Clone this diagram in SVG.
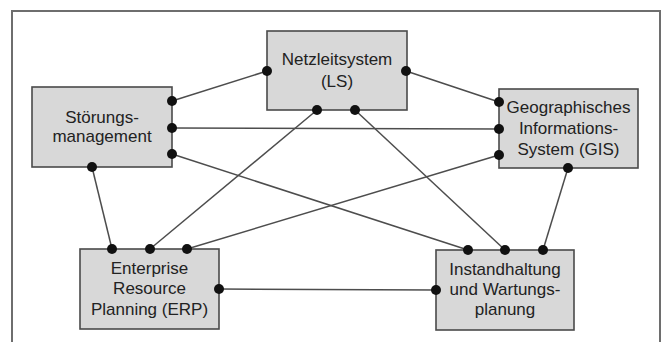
<svg xmlns="http://www.w3.org/2000/svg" width="664" height="342" viewBox="0 0 664 342">
<style>
.box{fill:#d8d8d8;stroke:#4a4a4a;stroke-width:1.6}
.ln{stroke:#4d4d4d;stroke-width:1.5;fill:none}
.dot{fill:#111}
text{font-family:"Liberation Sans","Open Sans",sans-serif;font-size:17px;fill:#222;text-anchor:middle}
</style>
<rect x="0" y="0" width="664" height="342" fill="#fff"/>
<path d="M12 352 V11 H660 V352" fill="none" stroke="#6e6e6e" stroke-width="2"/>
<g id="connectors" class="ln">
<line x1="267" y1="71" x2="172" y2="101"/>
<line x1="406" y1="71" x2="499" y2="102"/>
<line x1="172" y1="128" x2="499" y2="129"/>
<line x1="172" y1="154" x2="468" y2="250"/>
<line x1="92" y1="167" x2="112" y2="249"/>
<line x1="317" y1="110" x2="150" y2="249"/>
<line x1="355" y1="110" x2="505" y2="250"/>
<line x1="499" y1="155" x2="187" y2="249"/>
<line x1="568" y1="168" x2="543" y2="250"/>
<line x1="219" y1="289" x2="436" y2="290"/>
</g>
<g id="ls">
<rect class="box" x="267" y="31" width="140" height="79"/>
<text x="337" y="65">Netzleitsystem</text>
<text x="337" y="87">(LS)</text>
</g>
<g id="stoerung">
<rect class="box" x="32" y="87" width="140" height="80"/>
<text x="102" y="123">Störungs-</text>
<text x="102" y="142">management</text>
</g>
<g id="gis">
<rect class="box" x="499" y="89" width="139" height="79"/>
<text x="568.5" y="113">Geographisches</text>
<text x="568.5" y="134">Informations-</text>
<text x="568.5" y="155">System (GIS)</text>
</g>
<g id="erp">
<rect class="box" x="80" y="249" width="139" height="80"/>
<text x="149.5" y="274">Enterprise</text>
<text x="149.5" y="294">Resource</text>
<text x="149.5" y="315">Planning (ERP)</text>
</g>
<g id="instand">
<rect class="box" x="436" y="250" width="138" height="80"/>
<text x="505" y="275">Instandhaltung</text>
<text x="505" y="295">und Wartungs-</text>
<text x="505" y="315">planung</text>
</g>
<g id="dots" class="dot">
<circle cx="267" cy="71" r="5"/><circle cx="406" cy="71" r="5"/>
<circle cx="317" cy="110" r="5"/><circle cx="355" cy="110" r="5"/>
<circle cx="172" cy="101" r="5"/><circle cx="172" cy="128" r="5"/><circle cx="172" cy="154" r="5"/>
<circle cx="92" cy="167" r="5"/>
<circle cx="499" cy="102" r="5"/><circle cx="499" cy="129" r="5"/><circle cx="499" cy="155" r="5"/>
<circle cx="568" cy="168" r="5"/>
<circle cx="112" cy="249" r="5"/><circle cx="150" cy="249" r="5"/><circle cx="187" cy="249" r="5"/>
<circle cx="219" cy="289" r="5"/>
<circle cx="468" cy="250" r="5"/><circle cx="505" cy="250" r="5"/><circle cx="543" cy="250" r="5"/>
<circle cx="436" cy="290" r="5"/>
</g>
</svg>
